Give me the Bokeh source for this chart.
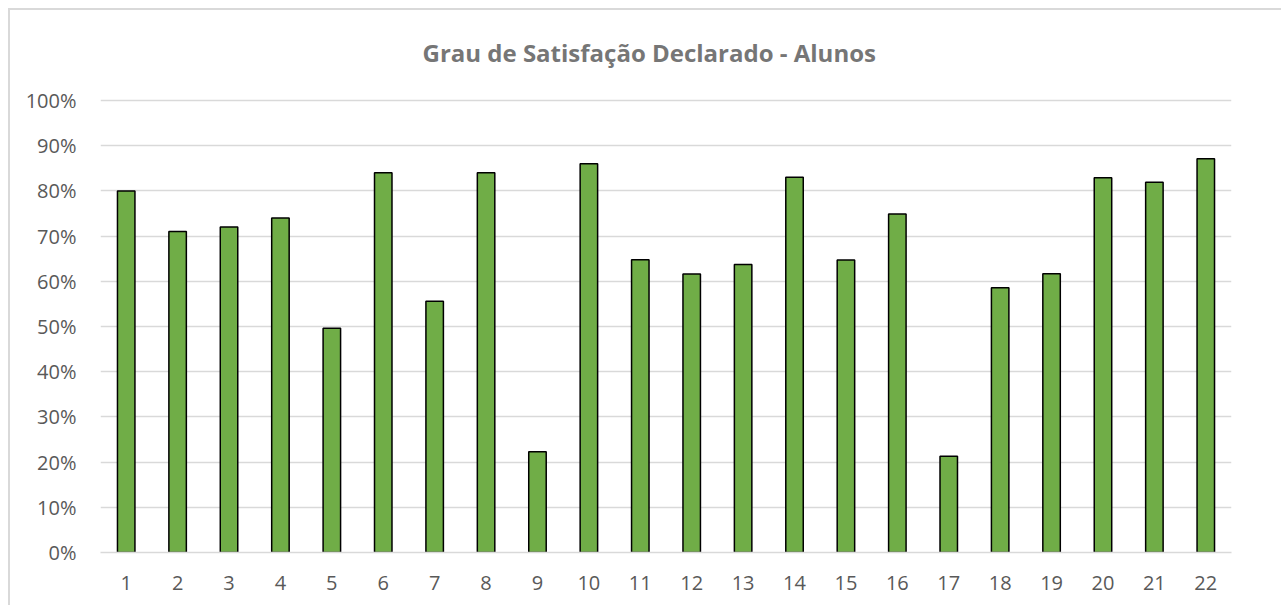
from bokeh.plotting import figure
from bokeh.models import ColumnDataSource, NumeralTickFormatter, FixedTicker, Range1d, Title
from bokeh.embed import file_html
from bokeh.resources import INLINE

# ---- data ----
categories = [str(i) for i in range(1, 23)]
satisfaction = [0.80, 0.71, 0.72, 0.74, 0.496, 0.84, 0.556, 0.84, 0.223, 0.86, 0.648,
                0.616, 0.637, 0.83, 0.647, 0.749, 0.213, 0.586, 0.617, 0.829, 0.819, 0.871]
y_ticks = [i / 10 for i in range(0, 11)]
title_text = "Grau de Satisfação Declarado - Alunos"

FONT = "Open Sans"

src = ColumnDataSource(dict(cat=categories, val=satisfaction))

p = figure(x_range=categories, y_range=Range1d(0, 1.02),
           width=1273, height=597, output_backend="svg", toolbar_location=None,
           min_border_left=90, min_border_right=52, min_border_top=79, min_border_bottom=55)

p.vbar(x="cat", top="val", width=0.34, source=src,
       fill_color="#70ad47", line_color="#000000", line_width=1.5)

p.outline_line_color = None
p.background_fill_color = "white"
p.border_fill_color = "white"

p.xgrid.grid_line_color = None
p.ygrid.grid_line_color = "#d9d9d9"
p.ygrid.grid_line_width = 1.3

p.yaxis.ticker = FixedTicker(ticks=y_ticks)
p.yaxis.formatter = NumeralTickFormatter(format="0%")
p.yaxis.axis_line_color = None
p.yaxis.major_tick_line_color = None
p.yaxis.minor_tick_line_color = None
p.yaxis.major_label_standoff = 18

p.xaxis.axis_line_color = "#d9d9d9"
p.xaxis.axis_line_width = 1.3
p.xaxis.major_tick_line_color = None
p.xaxis.minor_tick_line_color = None
p.xaxis.major_label_standoff = 17

for ax in (p.xaxis[0], p.yaxis[0]):
    ax.major_label_text_font = FONT
    ax.major_label_text_font_size = "20px"
    ax.major_label_text_color = "#595959"

title = Title(text=title_text, align="left", offset=322, standoff=46,
              text_font=FONT, text_font_size="24px", text_font_style="bold",
              text_color="#767676")
p.add_layout(title, "above")

p.styles = {"margin-left": "8px", "margin-top": "8px",
            "border-top": "2px solid #d9d9d9", "border-left": "2px solid #d9d9d9"}

open("out.html", "w").write(file_html(p, INLINE))
